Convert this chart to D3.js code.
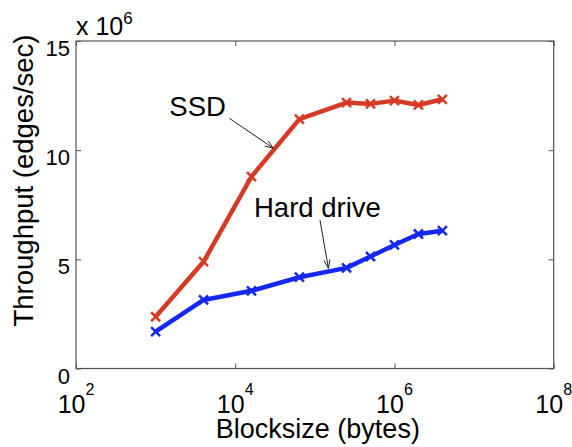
<!DOCTYPE html>
<html><head><meta charset="utf-8">
<script src="https://cdn.jsdelivr.net/npm/d3@7"></script>
<style>body{margin:0;background:#fff}svg{display:block}text{font-family:"Liberation Sans",Arial,sans-serif;fill:#000}</style>
</head><body>
<script>
const blocksizes = [1000, 4000, 16000, 64000, 250000, 500000, 1000000, 2000000, 4000000];
const ssd = [2.37, 4.89, 8.79, 11.42, 12.18, 12.12, 12.27, 12.07, 12.33];
const hdd = [1.69, 3.14, 3.56, 4.18, 4.61, 5.13, 5.66, 6.16, 6.31];
const xTickExps = [2, 4, 6, 8];
const yTicks = [0, 5, 10, 15];
const seriesNames = ["SSD", "Hard drive"];
// annotation anchors in data coordinates: text [x,y], arrow from [x,y] to [x,y]
const annText = [[1486, 11.57], [17200, 6.95]];
const annFrom = [[8440, 11.46], [116000, 6.8]];
const annTo = [[30100, 10.09], [148000, 4.59]];

const W = 572, H = 447;
const m = {left: 76, right: 18.3, top: 41, bottom: 78.5};
const svg = d3.select("body").append("svg").attr("width", W).attr("height", H);
const x = d3.scaleLog().domain([1e2, 1e8]).range([m.left, W - m.right]);
const y = d3.scaleLinear().domain([0, 15]).range([H - m.bottom, m.top]);

const axisColor = "#555";
// box
svg.append("rect").attr("x", x(1e2)).attr("y", y(15)).attr("width", x(1e8) - x(1e2)).attr("height", y(0) - y(15))
  .attr("fill", "none").attr("stroke", axisColor).attr("stroke-width", 1.2);

// axes with ticks inside
const xAx = svg.append("g").attr("transform", `translate(0,${y(0)})`)
  .call(d3.axisBottom(x).tickValues(xTickExps.map(e => Math.pow(10, e))).tickSize(-5).tickFormat(""));
const xAxTop = svg.append("g").attr("transform", `translate(0,${y(15)})`)
  .call(d3.axisTop(x).tickValues(xTickExps.map(e => Math.pow(10, e))).tickSize(-5).tickFormat(""));
const yAx = svg.append("g").attr("transform", `translate(${x(1e2)},0)`)
  .call(d3.axisLeft(y).tickValues(yTicks).tickSize(-5).tickFormat(""));
const yAxR = svg.append("g").attr("transform", `translate(${x(1e8)},0)`)
  .call(d3.axisRight(y).tickValues(yTicks).tickSize(-5).tickFormat(""));
[xAx, xAxTop, yAx, yAxR].forEach(g => {
  g.select(".domain").remove();
  g.selectAll(".tick line").attr("stroke", axisColor);
});

// x tick labels 10^n
xTickExps.forEach(e => {
  const t = svg.append("text").attr("y", y(0) + 44).attr("font-size", 25).attr("text-anchor", "middle")
    .attr("x", x(Math.pow(10, e)));
  t.append("tspan").text("10");
  t.append("tspan").text(e).attr("font-size", 16).attr("dy", -18);
});
// y tick labels
svg.selectAll(".ylab").data(yTicks).enter().append("text")
  .attr("x", x(1e2) - 6).attr("y", d => y(d) + 15).attr("text-anchor", "end").attr("font-size", 22)
  .text(d => d);
// multiplier
const mult = svg.append("text").attr("x", x(1e2)).attr("y", 35).attr("font-size", 25);
mult.append("tspan").text("x 10");
mult.append("tspan").text("6").attr("font-size", 17).attr("dy", -11);

// axis titles
svg.append("text").attr("x", (x(1e2) + x(1e8)) / 2 + 3).attr("y", 437.5).attr("text-anchor", "middle")
  .attr("font-size", 27).text("Blocksize (bytes)");
svg.append("text").attr("transform", `translate(33,${(29 + 332) / 2}) rotate(-90)`).attr("text-anchor", "middle")
  .attr("font-size", 27.5).text("Throughput (edges/sec)");

// series
const colors = ["#d63a25", "#1428f0"];
[ssd, hdd].forEach((vals, i) => {
  const pts = blocksizes.map((b, j) => [x(b), y(vals[j])]);
  svg.append("path").attr("d", d3.line()(pts)).attr("fill", "none").attr("stroke", colors[i])
    .attr("stroke-width", 4.5).attr("stroke-linejoin", "round");
  const s = 4.5;
  svg.selectAll(null).data(pts).enter().append("path")
    .attr("d", p => `M${p[0]-s},${p[1]-s}L${p[0]+s},${p[1]+s}M${p[0]-s},${p[1]+s}L${p[0]+s},${p[1]-s}`)
    .attr("stroke", colors[i]).attr("stroke-width", 2.5).attr("fill", "none");
});

// annotations
seriesNames.forEach((name, i) => {
  svg.append("text").attr("x", x(annText[i][0])).attr("y", y(annText[i][1])).attr("font-size", 27.5).text(name);
  const x1 = x(annFrom[i][0]), y1 = y(annFrom[i][1]), x2 = x(annTo[i][0]), y2 = y(annTo[i][1]);
  svg.append("line").attr("x1", x1).attr("y1", y1).attr("x2", x2).attr("y2", y2)
    .attr("stroke", "#222").attr("stroke-width", 1);
  const ang = Math.atan2(y2 - y1, x2 - x1), L = 9, a = 0.35;
  const p1 = [x2 - L * Math.cos(ang - a), y2 - L * Math.sin(ang - a)];
  const p2 = [x2 - L * Math.cos(ang + a), y2 - L * Math.sin(ang + a)];
  svg.append("path").attr("d", `M${p1}L${x2},${y2}L${p2}`).attr("fill", "none")
    .attr("stroke", "#222").attr("stroke-width", 1);
});
</script>
</body></html>
